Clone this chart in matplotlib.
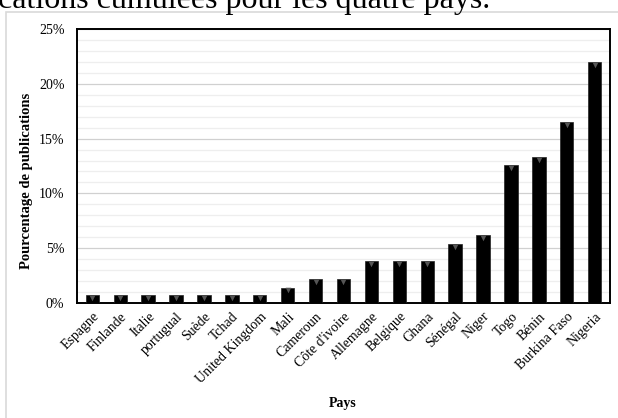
import matplotlib.pyplot as plt
import matplotlib.patches as mpatches
from matplotlib.ticker import MultipleLocator, PercentFormatter

plt.rcParams.update({
    'font.family': ['Liberation Serif', 'DejaVu Serif'],
    'font.size': 10,
})

# Data (percent of publications)
countries = ['Espagne', 'Finlande', 'Italie', 'portugual', 'Suède', 'Tchad',
             'United Kingdom', 'Mali', 'Cameroun', "Côte d'ivoire", 'Allemagne',
             'Belgique', 'Ghana', 'Sénégal', 'Niger', 'Togo', 'Bénin',
             'Burkina Faso', 'Nigeria']
percentages = [0.7, 0.7, 0.7, 0.7, 0.7, 0.7, 0.7, 1.4, 2.2, 2.2, 3.8, 3.8,
               3.8, 5.4, 6.2, 12.6, 13.3, 16.5, 22.0]

fig = plt.figure(figsize=(6.18, 4.18), dpi=100)

# Caption fragment cut off at top of the image (as in the reference)
fig.text(-0.004, 1 - 8 / 418, 'cations cumulées pour les quatre pays.',
         fontsize=23, va='baseline', ha='left')

# Light grey frame of the chart object
fig.patches.append(mpatches.Rectangle((6 / 618, -0.01), 1.0, 1 - 12 / 418 + 0.01,
                                      transform=fig.transFigure, fill=False,
                                      edgecolor='#d9d9d9', linewidth=1.2))

ax = fig.add_axes([77 / 618, 1 - 303 / 418, 533 / 618, 274 / 418])

x = range(len(countries))
ax.bar(x, percentages, width=0.48, color='black', edgecolor='#222222',
       linewidth=0.5, zorder=3)
# small grey bevel at the top of each bar
ax.scatter(x, [p - 0.25 for p in percentages], marker='v', s=16,
           color='#555555', linewidths=0, zorder=4)

ax.set_xlim(-0.55, len(countries) - 0.45)
ax.set_ylim(0, 25)
ax.yaxis.set_major_locator(MultipleLocator(5))
ax.yaxis.set_minor_locator(MultipleLocator(1))
ax.yaxis.set_major_formatter(PercentFormatter(decimals=0))
ax.grid(axis='y', which='major', color='#d0d0d0', linewidth=0.9, zorder=0)
ax.grid(axis='y', which='minor', color='#eeeeee', linewidth=0.9, zorder=0)
ax.tick_params(axis='both', which='both', length=0)
ax.tick_params(axis='y', pad=9, labelsize=10)

ax.set_xticks(list(x))
ax.set_xticklabels(countries, rotation=45, ha='right', rotation_mode='anchor',
                   fontsize=10)
ax.tick_params(axis='x', pad=5)

for s in ax.spines.values():
    s.set_color('black')
    s.set_linewidth(1.4)

fig.text(27 / 618, 1 - 181 / 418, 'Pourcentage de publications',
         fontweight='bold', fontsize=10.5, rotation=90,
         ha='center', va='center')
fig.text(343 / 618, 1 - 403 / 418, 'Pays', fontweight='bold', fontsize=10,
         ha='center', va='center')

fig.savefig('out.png', dpi=100)
